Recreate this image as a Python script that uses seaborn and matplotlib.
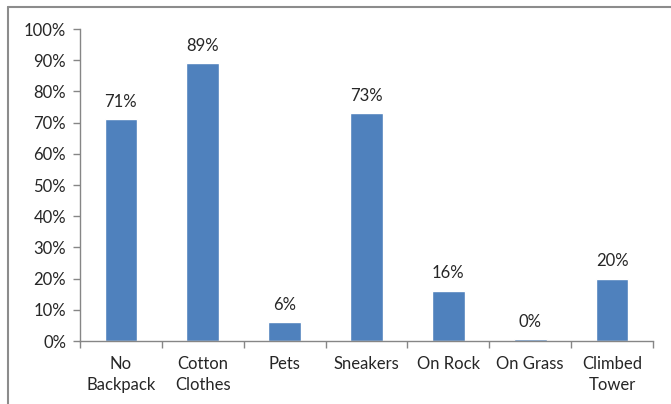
import matplotlib
matplotlib.use("Agg")
import matplotlib.pyplot as plt
from matplotlib.lines import Line2D
from matplotlib.ticker import PercentFormatter, FixedLocator
import seaborn as sns
import pandas as pd

categories = ["No\nBackpack", "Cotton\nClothes", "Pets", "Sneakers",
              "On Rock", "On Grass", "Climbed\nTower"]
shares = [0.71, 0.89, 0.06, 0.73, 0.16, 0.005, 0.20]

df = pd.DataFrame({"category": categories, "share": shares})

sns.set_theme(style="white")
plt.rcParams["font.family"] = ["Lato", "DejaVu Sans"]

text_color = "#262626"
axis_color = "#868686"
bar_color = "#4F81BD"
font_size = 12

fig = plt.figure(figsize=(6.71, 4.04), dpi=100)
ax = fig.add_axes([80 / 671, 1 - 341 / 404, (653 - 80) / 671, (341 - 29) / 404])

sns.barplot(data=df, x="category", y="share", color=bar_color,
            width=0.4, saturation=1, ax=ax)

ax.set_xlim(-0.5, len(categories) - 0.5)
ax.set_ylim(0, 1.0)
ax.yaxis.set_major_locator(FixedLocator([i / 10 for i in range(11)]))
ax.yaxis.set_major_formatter(PercentFormatter(1.0, decimals=0))

# category boundaries carry the tick marks, labels sit at centers
ax.set_xticks(range(len(categories)))
ax.set_xticklabels(categories, linespacing=1.35)
ax.set_xticks([i - 0.5 for i in range(len(categories) + 1)], minor=True)
ax.tick_params(axis="x", which="major", length=0, pad=11,
               labelsize=font_size, labelcolor=text_color)
ax.tick_params(axis="x", which="minor", length=5, width=1,
               color=axis_color, direction="out", bottom=True)
ax.tick_params(axis="y", which="major", length=5, width=1,
               color=axis_color, direction="out", left=True, pad=5,
               labelsize=font_size, labelcolor=text_color)

for side in ("top", "right"):
    ax.spines[side].set_visible(False)
for side in ("left", "bottom"):
    ax.spines[side].set_color(axis_color)
    ax.spines[side].set_linewidth(1)

ax.set_xlabel("")
ax.set_ylabel("")

for i, v in enumerate(shares):
    ax.annotate(f"{v * 100:.0f}%", xy=(i, v), xytext=(0, 7),
                textcoords="offset points", ha="center", va="bottom",
                fontsize=font_size, color=text_color)

# outer chart frame (top and left edges)
fig.add_artist(Line2D([8 / 671, 1.0], [1 - 7 / 404, 1 - 7 / 404],
                      transform=fig.transFigure, color="#8c8c8c", lw=1.5))
fig.add_artist(Line2D([8 / 671, 8 / 671], [0.0, 1 - 7 / 404],
                      transform=fig.transFigure, color="#8c8c8c", lw=1.5))

fig.savefig("out.png", dpi=100)
